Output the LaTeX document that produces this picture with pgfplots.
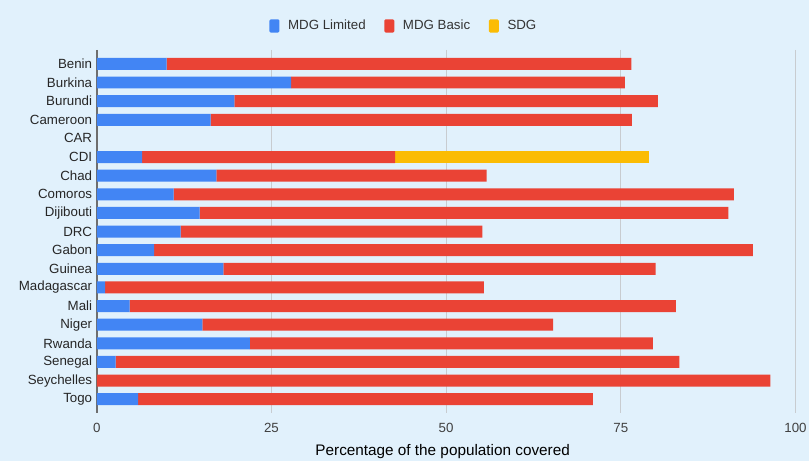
\documentclass[border=0pt]{standalone}
\usepackage{pgfplots}
\usepackage{pgfplotstable}
\pgfplotsset{compat=1.18}
\usepackage{fontspec}
\setmainfont{Liberation Sans}
\definecolor{bg}{RGB}{225,241,252}
\definecolor{cblue}{RGB}{66,133,244}
\definecolor{cred}{RGB}{234,67,53}
\definecolor{cyel}{RGB}{251,188,4}
\definecolor{gridc}{RGB}{200,204,208}
\definecolor{axc}{RGB}{110,110,110}
\pgfplotstableread{
y blue red sdg
0 10.0 66.5 0
1 27.8 47.8 0
2 19.7 60.6 0
3 16.3 60.3 0
4 0 0 0
5 6.5 36.2 36.4
6 17.1 38.7 0
7 11.0 80.2 0
8 14.7 75.7 0
9 12.0 43.2 0
10 8.2 85.7 0
11 18.1 61.9 0
12 1.2 54.2 0
13 4.7 78.2 0
14 15.1 50.2 0
15 21.9 57.7 0
16 2.7 80.7 0
17 0 96.4 0
18 5.9 65.1 0
}\datatable
\begin{document}
\begin{tikzpicture}
\fill[bg] (0,0) rectangle (608.25pt,346.5pt);
\begin{axis}[
  at={(72.75pt,36pt)}, anchor=south west,
  scale only axis, width=525pt, height=273pt,
  xbar stacked, bar width=9pt,
  xmin=0, xmax=100, ymin=-0.75, ymax=18.75,
  y dir=reverse,
  xtick={0,25,50,75,100},
  ytick={0,...,18},
  yticklabels={Benin,Burkina,Burundi,Cameroon,CAR,CDI,Chad,Comoros,Dijibouti,DRC,Gabon,Guinea,Madagascar,Mali,Niger,Rwanda,Senegal,Seychelles,Togo},
  axis lines*=left,
  x axis line style={draw=none},
  y axis line style={draw=axc, line width=1.1pt},
  major tick length=0pt,
  xmajorgrids, grid style={gridc, line width=0.9pt},
  /pgf/number format/assume math mode=true,
  tick label style={font=\fontsize{10}{12}\selectfont},
  yticklabel style={text=black!85},
  xticklabel style={text=black!75, yshift=-4pt},
  xlabel={Percentage of the population covered},
  xlabel style={font=\fontsize{11.5}{13}\selectfont, at={(axis description cs:0.495,0)}, anchor=center, yshift=-29pt},
  legend columns=3,
  legend style={at={(axis description cs:0.44,1)}, anchor=center, yshift=18pt, draw=none, fill=none,
    font=\fontsize{10}{12}\selectfont, text=black!80,
    /tikz/every odd column/.append style={column sep=4.5pt},
    /tikz/every even column/.append style={column sep=12pt}},
  clip=false,
]
\addplot[fill=cblue, draw=none, legend image code/.code={\fill[cblue, rounded corners=1pt] (0pt,-5pt) rectangle (7.5pt,5pt);}] table[x=blue, y=y] {\datatable};
\addplot[fill=cred, draw=none, legend image code/.code={\fill[cred, rounded corners=1pt] (0pt,-5pt) rectangle (7.5pt,5pt);}] table[x=red, y=y] {\datatable};
\addplot[fill=cyel, draw=none, legend image code/.code={\fill[cyel, rounded corners=1pt] (0pt,-5pt) rectangle (7.5pt,5pt);}] table[x=sdg, y=y] {\datatable};
\legend{MDG Limited, MDG Basic, SDG}
\end{axis}
\end{tikzpicture}
\end{document}
